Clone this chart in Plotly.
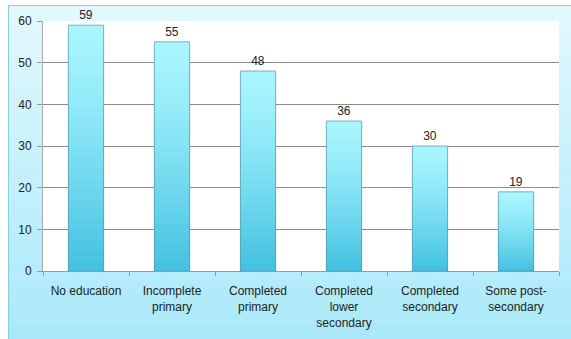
import plotly.graph_objects as go

categories = ["No education", "Incomplete<br>primary", "Completed<br>primary",
              "Completed<br>lower<br>secondary", "Completed<br>secondary", "Some post-<br>secondary"]
values = [59, 55, 48, 36, 30, 19]
y_ticks = [0, 10, 20, 30, 40, 50, 60]

W, H = 571, 339
ML, MR, MT, MB = 43, 12, 21, 68
PW, PH = W - ML - MR, H - MT - MB


def px_to_paper_x(px):
    return (px - ML) / PW


def px_to_paper_y(py):
    return (H - MB - py) / PH


def lerp(c1, c2, t):
    return "rgb(%d,%d,%d)" % tuple(round(a + (b - a) * t) for a, b in zip(c1, c2))


fig = go.Figure()

# gradient bars built from overlaid bars of decreasing height
N = 24
top_c = (168, 245, 254)
bot_c = (68, 194, 226)
for k in range(N):
    frac = 1 - k / N
    t = (k / (N - 1)) ** 1.3
    fig.add_trace(go.Bar(
        x=categories, y=[v * frac for v in values],
        marker=dict(color=lerp(top_c, bot_c, t), line=dict(width=0)),
        width=0.41, hoverinfo="skip", showlegend=False,
    ))

# outline + labels
fig.add_trace(go.Bar(
    x=categories, y=values, width=0.41,
    marker=dict(color="rgba(0,0,0,0)", line=dict(color="rgba(90,150,170,0.75)", width=1)),
    text=[str(v) for v in values], textposition="outside",
    textfont=dict(size=12, color="#222222", family="Liberation Sans"),
    cliponaxis=False, showlegend=False,
))

shapes = []
# frame background gradient
fx0, fy0 = 8, 5
nb = 40
for i in range(nb):
    y0 = fy0 + (H - fy0) * i / nb
    y1 = fy0 + (H - fy0) * (i + 1) / nb + 0.5
    shapes.append(dict(type="rect", xref="paper", yref="paper", layer="below",
                       x0=px_to_paper_x(fx0), x1=px_to_paper_x(W + 2),
                       y0=px_to_paper_y(y1), y1=px_to_paper_y(y0),
                       fillcolor=lerp((226, 248, 253), (170, 233, 250), i / (nb - 1)),
                       line=dict(width=0)))
shapes.append(dict(type="rect", xref="paper", yref="paper", layer="below",
                   x0=px_to_paper_x(fx0 + 0.5), x1=px_to_paper_x(W + 5),
                   y0=px_to_paper_y(H + 5), y1=px_to_paper_y(fy0 + 0.5),
                   fillcolor="rgba(0,0,0,0)", line=dict(color="#86cde9", width=1)))
shapes.append(dict(type="rect", xref="x domain", yref="y domain", layer="below",
                   x0=0, x1=1, y0=0, y1=1, fillcolor="white", line=dict(width=0)))

fig.update_layout(
    width=W, height=H,
    margin=dict(l=ML, r=MR, t=MT, b=MB),
    barmode="overlay",
    paper_bgcolor="white", plot_bgcolor="white",
    shapes=shapes,
    font=dict(family="Liberation Sans", size=11, color="#222222"),
    xaxis=dict(type="category", tickson="boundaries", ticks="outside", ticklen=4,
               tickcolor="#999999", showline=True, linecolor="#999999",
               showgrid=False, tickfont=dict(size=12), ticklabelstandoff=9,
               automargin=False, fixedrange=True),
    yaxis=dict(range=[0, 60], tickvals=y_ticks, ticks="outside", ticklen=5,
               tickcolor="#999999", showline=True, linecolor="#aaaaaa",
               gridcolor="#8c8c8c", gridwidth=1, zeroline=False,
               tickfont=dict(size=12), ticklabelstandoff=3, automargin=False,
               fixedrange=True),
)

fig.write_html("out.html")
